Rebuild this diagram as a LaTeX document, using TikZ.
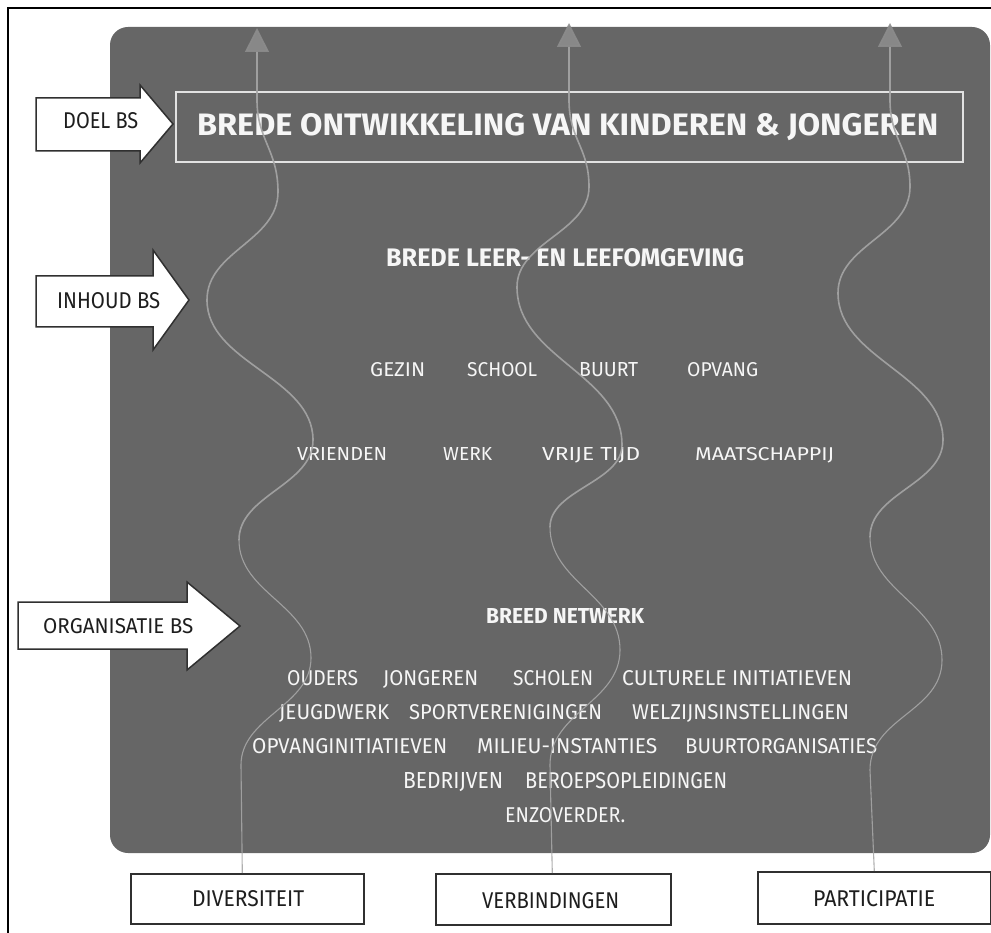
\documentclass[tikz,border=0pt]{standalone}
\usepackage{graphicx}
\usepackage{fontspec}
\setmainfont{Fira Sans}
\usetikzlibrary{arrows.meta}
\definecolor{boxgrey}{HTML}{666666}
\definecolor{wavegrey}{HTML}{A6A6A6}
\definecolor{tipgrey}{HTML}{8C8C8C}
\definecolor{textwhite}{HTML}{F6F6F6}
\definecolor{textdark}{HTML}{1E1E1E}
\definecolor{framewhite}{HTML}{E2E2E2}
\definecolor{edgedark}{HTML}{303030}
\newcommand{\fitbox}[3]{\resizebox{#1pt}{#2pt}{#3}}
\tikzset{
  wtxt/.style={text=textwhite, inner sep=0pt, anchor=base west},
  dtxt/.style={text=textdark, inner sep=0pt, anchor=base west},
  blockarrow/.style={fill=white, draw=edgedark, line width=1.5pt, line join=miter},
  labelbox/.style={fill=white, draw=edgedark, line width=1.6pt},
  wavelow/.style={draw=wavegrey, line width=1.1pt, opacity=0.9},
  wavehigh/.style={draw=wavegrey, line width=1.6pt, opacity=0.9,
    -{Triangle[width=24pt,length=24pt,color=tipgrey]}},
}
\begin{document}
\begin{tikzpicture}[x=1pt,y=-1pt]
\useasboundingbox (0,0) rectangle (991,933);
% outer frame (left and top)
\draw[black, line width=2.5pt] (8,933) -- (8,8) -- (991,8);
% grey panel
\fill[boxgrey, rounded corners=18pt] (110,27) rectangle (990,853);
% title frame
\draw[framewhite, line width=2pt] (176,92) rectangle (963,162);
\node[wtxt] (title) at (197,136) {\fitbox{741}{22}{\bfseries BREDE ONTWIKKELING VAN KINDEREN \& JONGEREN}};
% left block arrows
\draw[blockarrow] (36,98) -- (140,98) -- (140,85) -- (173,124) -- (140,163) -- (140,151) -- (36,151) -- cycle;
\node[dtxt] (doel) at (63,129) {\fitbox{75}{16}{DOEL BS}};
\draw[blockarrow] (36,276) -- (153,276) -- (153,250) -- (189,300) -- (153,350) -- (153,327) -- (36,327) -- cycle;
\node[dtxt] (inhoud) at (57,309) {\fitbox{103}{16}{INHOUD BS}};
\draw[blockarrow] (18,602) -- (187,602) -- (187,582) -- (240,626) -- (187,670) -- (187,649) -- (18,649) -- cycle;
\node[dtxt] (org) at (43,633) {\fitbox{150}{15}{ORGANISATIE BS}};
% content texts
\node[wtxt] (leer) at (386,267) {\fitbox{358}{18}{\bfseries BREDE LEER- EN LEEFOMGEVING}};
\node[wtxt] (gezin) at (370,377) {\fitbox{55}{14}{GEZIN}};
\node[wtxt] (school) at (467,377) {\fitbox{70}{14}{SCHOOL}};
\node[wtxt] (buurt) at (579,377) {\fitbox{59}{14}{BUURT}};
\node[wtxt] (opvang) at (687,377) {\fitbox{71}{14}{OPVANG}};
\node[wtxt] (vrienden) at (297,460) {\fitbox{90}{13}{VRIENDEN}};
\node[wtxt] (werk) at (443,460) {\fitbox{49}{13}{WERK}};
\node[wtxt] (vrije) at (542,460) {\fitbox{98}{13}{VRIJE TIJD}};
\node[wtxt] (maat) at (695,460) {\fitbox{139}{13}{MAATSCHAPPIJ}};
\node[wtxt] (netwerk) at (486,623) {\fitbox{158}{15}{\bfseries BREED NETWERK}};
\node[wtxt] (ouders) at (287,685) {\fitbox{71}{15}{OUDERS}};
\node[wtxt] (jongeren) at (383,685) {\fitbox{95}{15}{JONGEREN}};
\node[wtxt] (scholen) at (513,685) {\fitbox{80}{15}{SCHOLEN}};
\node[wtxt] (cultureel) at (622,685) {\fitbox{230}{15}{CULTURELE INITIATIEVEN}};
\node[wtxt] (jeugd) at (279,719) {\fitbox{110}{15}{JEUGDWERK}};
\node[wtxt] (sport) at (409,719) {\fitbox{193}{15}{SPORTVERENIGINGEN}};
\node[wtxt] (welzijn) at (632,719) {\fitbox{217}{15}{WELZIJNSINSTELLINGEN}};
\node[wtxt] (opvangini) at (252,753) {\fitbox{195}{15}{OPVANGINITIATIEVEN}};
\node[wtxt] (milieu) at (477,753) {\fitbox{180}{15}{MILIEU-INSTANTIES}};
\node[wtxt] (buurtorg) at (685,753) {\fitbox{192}{15}{BUURTORGANISATIES}};
\node[wtxt] (bedrijven) at (403,788) {\fitbox{100}{16}{BEDRIJVEN}};
\node[wtxt] (beroeps) at (525,788) {\fitbox{202}{16}{BEROEPSOPLEIDINGEN}};
\node[wtxt] (enz) at (505,822) {\fitbox{120}{15}{ENZOVERDER.}};
% bottom label boxes
\node[labelbox, minimum width=233pt, minimum height=50pt, anchor=north west] (div) at (130,873) {};
\node[dtxt] (divtxt) at (192,906) {\fitbox{112}{16}{DIVERSITEIT}};
\node[labelbox, minimum width=235pt, minimum height=51pt, anchor=north west] (verb) at (435,873) {};
\node[dtxt] (verbtxt) at (482,908) {\fitbox{137}{16}{VERBINDINGEN}};
\node[labelbox, minimum width=233pt, minimum height=52pt, anchor=north west] (part) at (757,871) {};
\node[dtxt] (parttxt) at (813,906) {\fitbox{122}{16}{PARTICIPATIE}};
% key points of the waves
\coordinate (top1) at (257,28);
\coordinate (top2) at (569,23);
\coordinate (top3) at (890,23);
\coordinate (mid1) at (239,540);
\coordinate (mid2) at (550,527);
\coordinate (mid3) at (870,537);
% wave 1 (diversiteit)
\draw[wavelow] ([xshift=-5pt]div.north) -- (241,765)
  .. controls (241,717) and (311,706) .. (311,658)
  .. controls (311,605) and (239,593) .. (mid1);
\draw[wavehigh] (mid1)
  .. controls (239,495) and (313,485) .. (313,440)
  .. controls (313,377) and (207,363) .. (207,300)
  .. controls (207,251) and (278,241) .. (278,192)
  .. controls (278,150) and (257,140) .. (257,100)
  -- (top1);
% wave 2 (verbindingen)
\draw[wavelow] ([xshift=-1pt]verb.north) -- (550,765)
  .. controls (550,712) and (620,702) .. (620,650)
  .. controls (620,595) and (550,582) .. (mid2);
\draw[wavehigh] (mid2)
  .. controls (550,490) and (622,482) .. (622,445)
  .. controls (622,374) and (517,358) .. (517,287)
  .. controls (517,242) and (589,232) .. (589,187)
  .. controls (589,147) and (569,140) .. (569,100)
  -- (top2);
% wave 3 (participatie)
\draw[wavelow] (part.north) -- (870,770)
  .. controls (870,717) and (942,712) .. (942,660)
  .. controls (942,605) and (870,592) .. (mid3);
\draw[wavehigh] (mid3)
  .. controls (870,493) and (943,484) .. (943,440)
  .. controls (943,374) and (838,359) .. (838,293)
  .. controls (838,245) and (910,235) .. (910,187)
  .. controls (910,147) and (890,140) .. (890,100)
  -- (top3);
\end{tikzpicture}
\end{document}
